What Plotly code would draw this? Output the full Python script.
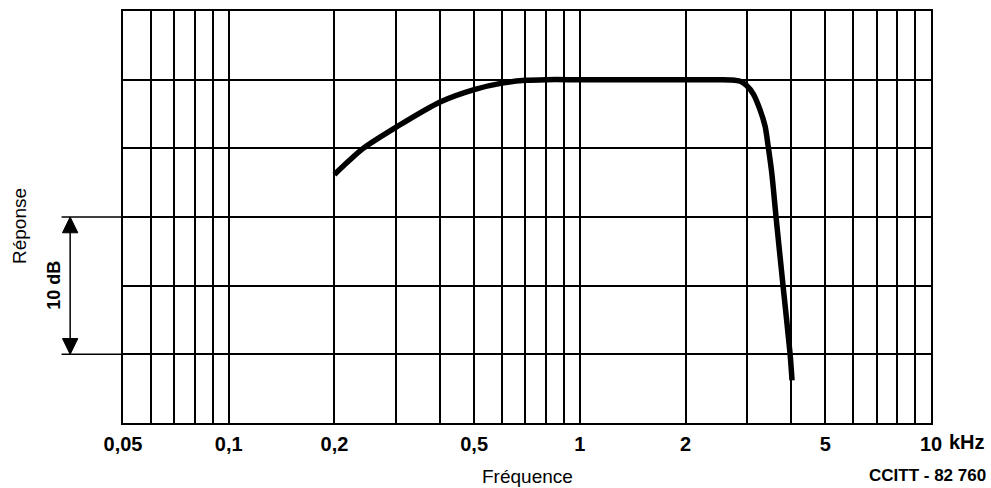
import math
import plotly.graph_objects as go

# ---- data ----
freq_khz = [0.2, 0.22, 0.2415, 0.3, 0.4, 0.5, 0.6, 0.7, 0.8, 1.0, 1.5, 2.0, 2.5, 2.7, 2.86, 2.99, 3.12, 3.26, 3.37, 3.44, 3.52, 3.62, 3.79, 3.97, 4.02]
response_db = [-6.9, -5.9, -5.0, -3.45, -1.62, -0.72, -0.25, -0.05, 0.0, 0.0, 0.0, 0.0, 0.0, -0.02, -0.12, -0.45, -1.05, -2.2, -3.4, -4.9, -6.8, -10.0, -15.0, -20.0, -21.9]

grid_x = [0.05, 0.06, 0.07, 0.08, 0.09,
          0.1, 0.2, 0.3, 0.4, 0.5, 0.6, 0.7, 0.8, 0.9,
          1, 2, 3, 4, 5, 6, 7, 8, 9, 10]
label_x = {0.05: "0,05", 0.1: "0,1", 0.2: "0,2", 0.5: "0,5", 1: "1", 2: "2", 5: "5", 10: "10"}
grid_y = [5, 0, -5, -10, -15, -20, -25]
bracket_top_db = -10
bracket_bottom_db = -20

FONT = "Liberation Sans, Arial, sans-serif"

fig = go.Figure()
fig.add_trace(go.Scatter(
    x=freq_khz, y=response_db, mode="lines",
    line=dict(color="black", width=5.5, shape="spline", smoothing=0.8),
    hoverinfo="skip", showlegend=False,
))

fig.update_layout(
    width=991, height=488,
    margin=dict(l=123, r=60, t=9, b=65),
    paper_bgcolor="white", plot_bgcolor="white",
    showlegend=False,
    font=dict(family=FONT, color="black"),
    xaxis=dict(
        type="log",
        range=[math.log10(0.05), math.log10(10)],
        tickmode="array",
        tickvals=grid_x,
        ticktext=[label_x.get(v, "") for v in grid_x],
        tickfont=dict(family=FONT, size=20, color="black", weight="bold"),
        ticks="", ticklabelstandoff=2,
        showgrid=True, gridcolor="black", gridwidth=1.5,
        showline=True, mirror=True, linecolor="black", linewidth=2,
        zeroline=False, fixedrange=True,
    ),
    yaxis=dict(
        range=[-25, 5],
        tickmode="array", tickvals=grid_y,
        showticklabels=False, ticks="",
        showgrid=True, gridcolor="black", gridwidth=1.5,
        showline=True, mirror=True, linecolor="black", linewidth=2,
        zeroline=False, fixedrange=True,
    ),
)

# 10 dB bracket: extension lines, vertical arrow, arrowheads
ext_x0 = -0.076
arrow_x = -0.0654
head_w = 0.0095
head_h = 1.15
shapes = []
for yv in (bracket_top_db, bracket_bottom_db):
    shapes.append(dict(type="line", xref="paper", yref="y", x0=ext_x0, x1=0, y0=yv, y1=yv,
                       line=dict(color="black", width=1.5)))
shapes.append(dict(type="line", xref="paper", yref="y", x0=arrow_x, x1=arrow_x,
                   y0=bracket_top_db, y1=bracket_bottom_db, line=dict(color="black", width=1.5)))
shapes.append(dict(type="path", xref="paper", yref="y",
                   path=f"M {arrow_x} {bracket_top_db} L {arrow_x-head_w} {bracket_top_db-head_h} L {arrow_x+head_w} {bracket_top_db-head_h} Z",
                   fillcolor="black", line=dict(color="black", width=1)))
shapes.append(dict(type="path", xref="paper", yref="y",
                   path=f"M {arrow_x} {bracket_bottom_db} L {arrow_x-head_w} {bracket_bottom_db+head_h} L {arrow_x+head_w} {bracket_bottom_db+head_h} Z",
                   fillcolor="black", line=dict(color="black", width=1)))
fig.update_layout(shapes=shapes)

annotations = [
    dict(text="Réponse", xref="paper", yref="paper", x=0, y=0.5, xshift=-104, yshift=-9,
         textangle=-90, showarrow=False, font=dict(size=19, color="black"),
         xanchor="center", yanchor="middle"),
    dict(text="<b>10 dB</b>", xref="paper", yref="y", x=0, y=(bracket_top_db + bracket_bottom_db) / 2,
         xshift=-69, textangle=-90, showarrow=False, font=dict(size=18, color="black"),
         xanchor="center", yanchor="middle"),
    dict(text="<b>kHz</b>", xref="paper", yref="paper", x=1, y=0, xshift=16, yshift=-19,
         showarrow=False, font=dict(size=20, color="black"), xanchor="left", yanchor="middle"),
    dict(text="Fréquence", xref="paper", yref="paper", x=0.5,
         y=0, yshift=-53, showarrow=False, font=dict(size=19, color="black"),
         xanchor="center", yanchor="middle"),
    dict(text="<b>CCITT - 82 760</b>", xref="paper", yref="paper", x=1, y=0, xshift=57, yshift=-52,
         showarrow=False, font=dict(size=17, color="black"), xanchor="right", yanchor="middle"),
]
fig.update_layout(annotations=annotations)

fig.write_html("out.html")
